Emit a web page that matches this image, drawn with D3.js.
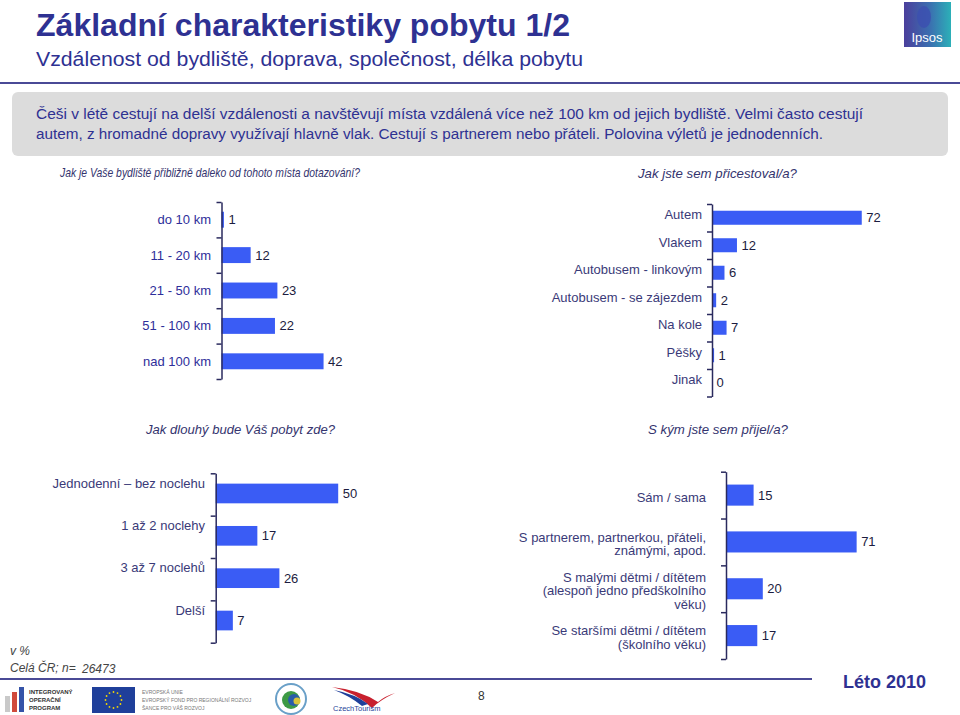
<!DOCTYPE html>
<html><head><meta charset="utf-8">
<script src="https://cdn.jsdelivr.net/npm/d3@7"></script>
<style>body{margin:0;background:#fff}svg{display:block;font-family:"Liberation Sans",Arial,sans-serif}</style>
</head><body>
<svg id="c" width="960" height="715"></svg>
<script>
// ---- data ----
const distCats = ["do 10 km","11 - 20 km","21 - 50 km","51 - 100 km","nad 100 km"];
const distVals = [1,12,23,22,42];
const transCats = ["Autem","Vlakem","Autobusem - linkovým","Autobusem - se zájezdem","Na kole","Pěšky","Jinak"];
const transVals = [72,12,6,2,7,1,0];
const stayCats = ["Jednodenní – bez noclehu","1 až 2 noclehy","3 až 7 noclehů","Delší"];
const stayVals = [50,17,26,7];
const compCats = ["Sám / sama","S partnerem, partnerkou, přáteli,\nznámými, apod.","S malými dětmi / dítětem\n(alespoň jedno předškolního\nvěku)","Se staršími dětmi / dítětem\n(školního věku)"];
const compVals = [15,71,20,17];

const NAVY = "#2e3192", LBL = "#3a3a78", VAL = "#1c1c40", BAR = "#3a5cf5", AX = "#2a2a5e";
const svg = d3.select("#c");

// ---- header ----
svg.append("text").attr("x",36).attr("y",36).attr("font-size",31).attr("font-weight","bold").attr("fill",NAVY)
  .attr("textLength",534).attr("lengthAdjust","spacingAndGlyphs")
  .text("Základní charakteristiky pobytu 1/2");
svg.append("text").attr("x",36).attr("y",66).attr("font-size",20).attr("fill",NAVY)
  .attr("textLength",547).attr("lengthAdjust","spacingAndGlyphs")
  .text("Vzdálenost od bydliště, doprava, společnost, délka pobytu");
svg.append("line").attr("x1",0).attr("x2",960).attr("y1",83).attr("y2",83).attr("stroke","#4a4a96").attr("stroke-width",2);

// Ipsos logo
const defs = svg.append("defs");
const lg = defs.append("linearGradient").attr("id","ipg").attr("x1",0).attr("x2",1).attr("y1",0).attr("y2",0);
lg.append("stop").attr("offset","0%").attr("stop-color","#4b3f9c");
lg.append("stop").attr("offset","55%").attr("stop-color","#3b6fb0");
lg.append("stop").attr("offset","100%").attr("stop-color","#2cb0b8");
svg.append("rect").attr("x",904).attr("y",2).attr("width",47).attr("height",45).attr("fill","url(#ipg)");
svg.append("ellipse").attr("cx",924).attr("cy",17).attr("rx",7).attr("ry",11).attr("fill","#3c4fb0").attr("opacity",0.8);
svg.append("text").attr("x",927).attr("y",42).attr("text-anchor","middle").attr("font-size",13).attr("fill","#fff").text("Ipsos");

// grey box
svg.append("rect").attr("x",12).attr("y",92).attr("width",936).attr("height",64).attr("rx",6).attr("fill","#dcdcdc");
svg.append("text").attr("x",36).attr("y",119).attr("font-size",15.5).attr("fill",NAVY)
  .attr("textLength",827).attr("lengthAdjust","spacingAndGlyphs")
  .text("Češi v létě cestují na delší vzdálenosti a navštěvují místa vzdálená více než 100 km od jejich bydliště. Velmi často cestují");
svg.append("text").attr("x",36).attr("y",139).attr("font-size",15.5).attr("fill",NAVY)
  .attr("textLength",787).attr("lengthAdjust","spacingAndGlyphs")
  .text("autem, z hromadné dopravy využívají hlavně vlak. Cestují s partnerem nebo přáteli. Polovina výletů je jednodenních.");

// question titles
const q = (x,y,t,w)=>svg.append("text").attr("x",x).attr("y",y).attr("font-size",13).attr("font-style","italic").attr("fill","#34346e")
  .attr("textLength",w).attr("lengthAdjust","spacingAndGlyphs").text(t);
q(60,177,"Jak je Vaše bydliště přibližně daleko od tohoto místa dotazování?",300);
q(638,178,"Jak jste sem přicestoval/a?",159);
q(146,434,"Jak dlouhý bude Váš pobyt zde?",189);
q(648,434,"S kým jste sem přijel/a?",140);

// ---- bar chart helper ----
function barChart(o){
  const g = svg.append("g");
  const y = d3.scaleBand().domain(o.cats).range([o.top,o.bottom]).paddingInner(o.pad).paddingOuter(o.pad/2);
  const x = d3.scaleLinear().domain([0,100]).range([o.x0,o.x0+o.pxPerUnit*100]);
  const bnd = d3.scaleLinear().domain([0,o.cats.length]).range([o.top,o.bottom]);
  g.selectAll("rect").data(o.vals).join("rect")
    .attr("x",x(0)).attr("y",(d,i)=>y(o.cats[i])+o.barDy)
    .attr("width",d=>x(d)-x(0)).attr("height",y.bandwidth()).attr("fill",BAR);
  const ax = g.append("g").attr("transform",`translate(${o.x0},0)`)
    .call(d3.axisLeft(bnd).tickValues(d3.range(o.cats.length+1)).tickFormat("").tickSizeInner(5).tickSizeOuter(0));
  ax.select(".domain").attr("stroke",AX).attr("stroke-width",1.5);
  ax.selectAll(".tick line").attr("stroke",AX).attr("stroke-width",1.5);
  g.selectAll("text.v").data(o.vals).join("text").attr("class","v")
    .attr("x",d=>x(d)+4.5).attr("y",(d,i)=>y(o.cats[i])+y.bandwidth()/2+o.barDy)
    .attr("dy","0.35em").attr("font-size",13).attr("fill",VAL).text(d=>d);
  o.cats.forEach((c,i)=>{
    const lines = c.split("\n");
    const lh = 13.5;
    const cy = y(c)+y.bandwidth()/2+o.lblDy;
    const t = g.append("text").attr("text-anchor","end").attr("font-size",13).attr("fill",o.lblColor);
    lines.forEach((ln,k)=>{
      t.append("tspan").attr("x",o.lblX).attr("y",cy+(k-(lines.length-1)/2)*lh).attr("dy","0.35em").text(ln);
    });
  });
}

barChart({cats:distCats,vals:distVals,x0:221.5,top:202,bottom:379,pxPerUnit:2.43,pad:0.55,barDy:0,lblX:211,lblDy:0,lblColor:"#2e2e9a"});
barChart({cats:transCats,vals:transVals,x0:712,top:204,bottom:396.5,pxPerUnit:2.08,pad:0.49,barDy:0,lblX:702,lblDy:-3,lblColor:LBL});
barChart({cats:stayCats,vals:stayVals,x0:215.7,top:473.3,bottom:642.7,pxPerUnit:2.45,pad:0.535,barDy:-1,lblX:205,lblDy:-11.5,lblColor:LBL});
barChart({cats:compCats,vals:compVals,x0:726,top:471.7,bottom:659,pxPerUnit:1.84,pad:0.55,barDy:0,lblX:706,lblDy:2,lblColor:LBL});

// ---- footer ----
svg.append("text").attr("x",10).attr("y",655).attr("font-size",12).attr("font-style","italic").attr("fill","#444").text("v %");
svg.append("text").attr("x",10).attr("y",672).attr("font-size",12).attr("font-style","italic").attr("fill","#444").text("Celá ČR; n= ");
svg.append("text").attr("x",82).attr("y",673).attr("font-size",12).attr("font-style","italic").attr("fill","#444").text("26473");
svg.append("line").attr("x1",0).attr("x2",812).attr("y1",679).attr("y2",679).attr("stroke","#4a4a96").attr("stroke-width",2);
svg.append("text").attr("x",843).attr("y",688).attr("font-size",18).attr("font-weight","bold").attr("fill",NAVY).text("Léto 2010");
svg.append("text").attr("x",478).attr("y",700).attr("font-size",12).attr("fill","#333").text("8");

// logos (approximate)
svg.append("rect").attr("x",5).attr("y",696).attr("width",5).attr("height",16).attr("fill","#c9c9c9");
svg.append("rect").attr("x",12).attr("y",692).attr("width",5).attr("height",20).attr("fill","#d04a3c");
svg.append("rect").attr("x",19).attr("y",687).attr("width",5).attr("height",25).attr("fill","#3553a8");
[["INTEGROVANÝ",694],["OPERAČNÍ",702],["PROGRAM",710]].forEach(([t,yy])=>
  svg.append("text").attr("x",29).attr("y",yy).attr("font-size",6).attr("font-weight","bold").attr("fill","#333").text(t));
svg.append("rect").attr("x",92).attr("y",687).attr("width",43).attr("height",26).attr("fill","#1f3f9a");
d3.range(12).forEach(i=>{const a=i/12*2*Math.PI;
  svg.append("circle").attr("cx",113.5+8*Math.cos(a)).attr("cy",700+8*Math.sin(a)).attr("r",0.9).attr("fill","#f5d800");});
[["EVROPSKÁ UNIE",694],["EVROPSKÝ FOND PRO REGIONÁLNÍ ROZVOJ",702],["ŠANCE PRO VÁŠ ROZVOJ",710]].forEach(([t,yy])=>
  svg.append("text").attr("x",142).attr("y",yy).attr("font-size",5).attr("fill","#777").text(t));
svg.append("circle").attr("cx",291).attr("cy",699).attr("r",15).attr("fill","none").attr("stroke","#6aa0c8").attr("stroke-width",2);
svg.append("circle").attr("cx",291).attr("cy",700).attr("r",9).attr("fill","#3d9a45");
svg.append("circle").attr("cx",294).attr("cy",700).attr("r",6).attr("fill","#2a5da8");
svg.append("circle").attr("cx",297).attr("cy",701).attr("r",3.5).attr("fill","#d8c43a");
svg.append("path").attr("d","M332,687 Q360,690 378,702 Q385,696 395,693 Q380,700 372,708 Q355,692 332,687Z").attr("fill","#c8202e");
svg.append("path").attr("d","M334,690 Q355,694 368,704 L362,706 Q350,696 334,690Z").attr("fill","#1f3f9a");
svg.append("text").attr("x",333).attr("y",711).attr("font-size",7.5).attr("fill","#1f3f9a").text("CzechTourism");
</script>
</body></html>
